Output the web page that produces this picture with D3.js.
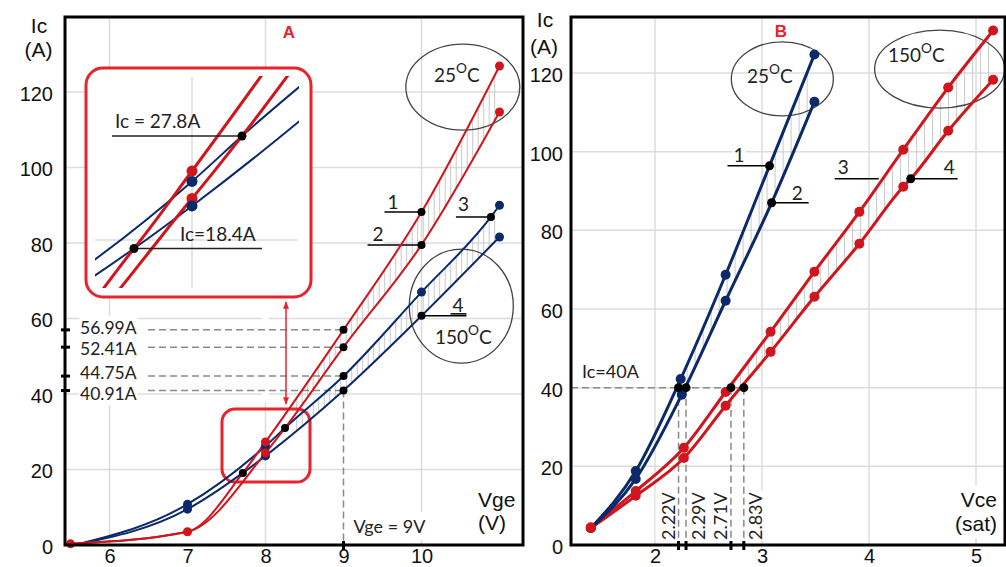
<!DOCTYPE html>
<html><head><meta charset="utf-8">
<script src="https://cdn.jsdelivr.net/npm/d3@7"></script>
<style>body{margin:0;background:#fff}svg{display:block}</style>
</head><body><svg id="c" width="1006" height="567"></svg>
<script>
// ================= DATA =================
// Panel A : Ic (A) vs Vge (V)
const aRed1  = [[5.5,0.3],[7,3.5],[7.71,19.1],[8,27.3],[9,56.99],[10,88.2],[11,126.9]];
const aRed2  = [[5.5,0.3],[7,3.5],[8,24.4],[8.25,31],[9,52.41],[10,79.5],[11,114.7]];
const aBlue3 = [[5.55,0],[7,10.8],[8,26.2],[8.25,31],[9,44.75],[10,67],[10.89,86.9],[11,90]];
const aBlue4 = [[5.55,0],[7,9.5],[7.71,19.1],[8,23.6],[9,40.91],[10,60.7],[11,81.6]];
const aRed1Dots = [5.5,7,8,11], aRed2Dots = [8,11], aBlue3Dots = [7,8,10,11], aBlue4Dots = [7,8,11];
const aBlack = [[7.71,19.1],[8.25,31],[9,56.99],[9,52.41],[9,44.75],[9,40.91],[10,88.2],[10,79.5],[10.89,86.9],[10,60.7]];
const vgeRef = 9;
const vgeLevels = [56.99,52.41,44.75,40.91];
const insetLabels = ["Ic = 27.8A","Ic=18.4A"];
const aXTicks = [6,7,8,9,10], aXGrid = [6,8,10];
const aYTicks = [0,20,40,60,80,100,120];

// Panel B : Ic (A) vs Vce(sat) (V)
const bBlue1 = [[1.40,4.3],[1.82,18.8],[2.24,42.2],[2.66,68.7],[3.07,96.4],[3.49,124.7]];
const bBlue2 = [[1.40,4.3],[1.82,16.8],[2.25,38.2],[2.66,62.1],[3.09,87],[3.49,112.7]];
const bRed3  = [[1.40,4.5],[1.82,13.7],[2.27,24.7],[2.66,38.9],[3.08,54.2],[3.49,69.5],[3.91,84.7],[4.32,100.5],[4.74,116.3],[5.16,130.8]];
const bRed4  = [[1.40,4.3],[1.82,12.5],[2.27,22.1],[2.66,35.4],[3.08,49.1],[3.49,63.1],[3.91,76.6],[4.32,91.1],[4.39,93.1],[4.74,105.3],[5.16,118.3]];
const bBlack = [[3.07,96.4],[3.09,87],[4.39,93.1]];
const icRef = 40;
const vceLevels = [2.22,2.29,2.71,2.83];
const bXTicks = [2,3,4,5];
const bYTicks = [0,20,40,60,80,100,120];

// ================= SETUP =================
const RED="#d0151c", BLUE="#0c2a6a", RED2="#e8232b", GRID="#dcdcdc", HATCH="#c9c9c9";
const CAL="Lato, 'Open Sans', sans-serif", ARI="'Liberation Sans', Arial, sans-serif";
const svg=d3.select("#c");
const xA=d3.scaleLinear().domain([6,10]).range([109.5,421.5]);
const yA=d3.scaleLinear().domain([0,120]).range([545,92]);
const xB=d3.scaleLinear().domain([2,5]).range([655,976]);
const yB=d3.scaleLinear().domain([0,120]).range([545,73]);
const xI=d3.scaleLinear().domain([8,9]).range([192,392]);
const yI=d3.scaleLinear().domain([20,30]).range([240,145.5]);
const FA={l:65,t:17,r:523,b:545}, FB={l:571,t:17,r:1005,b:545};

const gGrid=svg.append("g"), gBg=svg.append("g"), gHatch=svg.append("g"),
      gAnn=svg.append("g"), gLines=svg.append("g"), gDots=svg.append("g"),
      gInset=svg.append("g"), gText=svg.append("g"), gFrame=svg.append("g");

// grid
function grid(xs,ys,x,y,F){
  gGrid.selectAll(null).data(xs).join("line").attr("x1",d=>x(d)).attr("x2",d=>x(d))
    .attr("y1",F.t).attr("y2",F.b).attr("stroke",GRID).attr("stroke-width",1.5);
  gGrid.selectAll(null).data(ys.filter(d=>d>0)).join("line").attr("y1",d=>y(d)).attr("y2",d=>y(d))
    .attr("x1",F.l).attr("x2",F.r).attr("stroke",GRID).attr("stroke-width",1.5);
}
grid(aXGrid,aYTicks,xA,yA,FA);
grid(bXTicks,bYTicks,xB,yB,FB);

// axes (labels)
function axes(x,y,xt,yt,F,pad){
  const ax=gFrame.append("g").attr("transform",`translate(0,${F.b})`)
    .call(d3.axisBottom(x).tickValues(xt).tickSize(0).tickPadding(3.5).tickFormat(d3.format("d")));
  const ay=gFrame.append("g").attr("transform",`translate(${F.l},0)`)
    .call(d3.axisLeft(y).tickValues(yt).tickSize(0).tickPadding(pad).tickFormat(d3.format("d")));
  [ax,ay].forEach(a=>{a.select(".domain").remove();a.attr("font-family",ARI).attr("font-size",20);
    a.selectAll("text").attr("fill","#111");});
  ay.selectAll("text").attr("dy","0.42em");
}
axes(xA,yA,aXTicks,aYTicks,FA,12);
axes(xB,yB,bXTicks,bYTicks,FB,8);

// frames
[FA,FB].forEach(F=>gFrame.append("rect").attr("x",F.l).attr("y",F.t).attr("width",F.r-F.l)
  .attr("height",F.b-F.t).attr("fill","none").attr("stroke","#000").attr("stroke-width",3));

// lines
const lineA=d3.line().x(d=>xA(d[0])).y(d=>yA(d[1])).curve(d3.curveMonotoneX);
const lineB=d3.line().x(d=>xB(d[0])).y(d=>yB(d[1])).curve(d3.curveMonotoneX);
function draw(gen,data,col,w,g){ return g.append("path").attr("d",gen(data)).attr("fill","none")
  .attr("stroke",col).attr("stroke-width",w).attr("stroke-linejoin","round").node(); }
const pA1=draw(lineA,aBlue4,BLUE,2,gLines), pA2=draw(lineA,aBlue3,BLUE,2,gLines),
      pA3=draw(lineA,aRed2,RED,2,gLines), pA4=draw(lineA,aRed1,RED,2,gLines);
const pB1=draw(lineB,bRed4,RED,3,gLines), pB2=draw(lineB,bRed3,RED,3,gLines),
      pB3=draw(lineB,bBlue2,BLUE,3,gLines), pB4=draw(lineB,bBlue1,BLUE,3,gLines);

function sampler(node){
  const L=node.getTotalLength(), pts=[];
  for(let l=0;l<=L;l+=0.5){const p=node.getPointAtLength(l);pts.push([p.x,p.y]);}
  pts.sort((a,b)=>a[0]-b[0]);
  const bis=d3.bisector(d=>d[0]).left;
  return px=>{let i=bis(pts,px); if(i<=0)return pts[0][1]; if(i>=pts.length)return pts[pts.length-1][1];
    const a=pts[i-1],b=pts[i],t=(b[0]-a[0])?(px-a[0])/(b[0]-a[0]):0; return a[1]+t*(b[1]-a[1]);};
}
function hatch(n1,n2,x0,x1,step){
  const s1=sampler(n1),s2=sampler(n2);
  for(let px=x0;px<=x1;px+=step){
    gHatch.append("line").attr("x1",px).attr("x2",px).attr("y1",s1(px)).attr("y2",s2(px))
      .attr("stroke",HATCH).attr("stroke-width",1);
  }
}
hatch(pA3,pA4,xA(8.4),xA(11),5.5);
hatch(pA1,pA2,xA(8.4),xA(11),5.5);
hatch(pB3,pB4,xB(2.3),xB(3.49),8);
hatch(pB1,pB2,xB(2.8),xB(5.16),8);

// dots
function dots(series,xs,x,y,col,r){
  const pts=series.filter(d=>xs.includes(d[0]));
  gDots.selectAll(null).data(pts).join("circle").attr("cx",d=>x(d[0])).attr("cy",d=>y(d[1]))
    .attr("r",r).attr("fill",col);
}
dots(aBlue4,aBlue4Dots,xA,yA,BLUE,4.5); dots(aBlue3,aBlue3Dots,xA,yA,BLUE,4.5);
dots(aRed2,aRed2Dots,xA,yA,RED,4.5); dots(aRed1,aRed1Dots,xA,yA,RED,4.5);
const isB=(d)=>!bBlack.some(b=>b[0]===d[0]&&b[1]===d[1]);
dots(bBlue2,bBlue2.filter(isB).map(d=>d[0]),xB,yB,BLUE,5);
dots(bBlue1,bBlue1.filter(isB).map(d=>d[0]),xB,yB,BLUE,5);
dots(bRed4,bRed4.filter(isB).map(d=>d[0]),xB,yB,RED,5);
dots(bRed3,bRed3.filter(isB).map(d=>d[0]),xB,yB,RED,5);
gDots.selectAll(null).data(aBlack).join("circle").attr("cx",d=>xA(d[0])).attr("cy",d=>yA(d[1])).attr("r",4).attr("fill","#000");
gDots.selectAll(null).data(bBlack).join("circle").attr("cx",d=>xB(d[0])).attr("cy",d=>yB(d[1])).attr("r",4.5).attr("fill","#000");
gDots.selectAll(null).data(vceLevels).join("circle").attr("cx",d=>xB(d)).attr("cy",yB(icRef)).attr("r",4.5).attr("fill","#000");

// text helper with white background
function txt(x,y,s,opt={}){
  const t=gText.append("text").attr("x",x).attr("y",y).text(s)
    .attr("font-family",opt.f||CAL).attr("font-size",opt.size||18).attr("fill",opt.col||"#222")
    .attr("text-anchor",opt.anchor||"start");
  if(opt.w) t.attr("font-weight",opt.w);
  if(opt.dy) t.attr("dy",opt.dy);
  if(opt.rot) t.attr("transform",`rotate(-90,${x},${y})`);
  if(opt.bg){ const b=t.node().getBoundingClientRect(), p=opt.bg;
    gBg.append("rect").attr("x",b.x-p).attr("y",b.y-p).attr("width",b.width+2*p).attr("height",b.height+2*p).attr("fill","#fff"); }
  return t;
}
function degText(x,y,num,size){
  const t=gText.append("text").attr("x",x).attr("y",y).attr("font-family",CAL).attr("font-size",size).attr("fill","#222");
  t.append("tspan").text(num); t.append("tspan").attr("dy",-9).attr("font-size",size*0.72).text("O");
  t.append("tspan").attr("dy",9).text("C"); return t;
}
const dash="7,4", DC="#8a8a8a";

// ---------- Panel A annotations ----------
txt(289,38,"A",{f:ARI,size:17,w:"bold",col:RED2,anchor:"middle"});
txt(39,33,"Ic",{f:ARI,size:21,anchor:"middle",col:"#111"});
txt(38.5,57,"(A)",{f:ARI,size:21,anchor:"middle",col:"#111"});
txt(478,507,"Vge",{f:ARI,size:21,col:"#111",bg:3});
txt(478,530,"(V)",{f:ARI,size:21,col:"#111",bg:3});
// Vge = 9V reference
gAnn.selectAll(null).data(vgeLevels).join("line").attr("x1",148).attr("x2",xA(vgeRef))
  .attr("y1",d=>yA(d)).attr("y2",d=>yA(d)).attr("stroke",DC).attr("stroke-width",1.5).attr("stroke-dasharray",dash);
gAnn.append("line").attr("x1",xA(vgeRef)).attr("x2",xA(vgeRef)).attr("y1",yA(d3.min(vgeLevels))).attr("y2",FA.b)
  .attr("stroke",DC).attr("stroke-width",1.5).attr("stroke-dasharray",dash);
gFrame.append("line").attr("x1",xA(vgeRef)).attr("x2",xA(vgeRef)).attr("y1",FA.b-4).attr("y2",FA.b+5).attr("stroke","#000").attr("stroke-width",3);
gFrame.selectAll(null).data(vgeLevels).join("line").attr("x1",FA.l-4).attr("x2",FA.l+5)
  .attr("y1",d=>yA(d)).attr("y2",d=>yA(d)).attr("stroke","#000").attr("stroke-width",3);
// label positions: keep near their value, spread apart so they don't collide
const labY=vgeLevels.map(v=>yA(v));
for(let it=0;it<50;it++){for(let i=0;i<labY.length-1;i++){const g=labY[i+1]-labY[i];
  if(g<21){const m=(21-g)/2;labY[i]-=m;labY[i+1]+=m;}}}
vgeLevels.forEach((v,i)=>txt(80,labY[i],d3.format(".2f")(v)+"A",{size:17.5,bg:1,dy:"0.36em"}));
txt(xA(vgeRef)+10,533,"Vge = "+vgeRef+"V",{size:18,bg:3});
// labels 1-4
function lab(px,py,s,tx,ty,l0,l1){
  gAnn.append("line").attr("x1",px+l0).attr("x2",px+l1).attr("y1",py).attr("y2",py).attr("stroke","#000").attr("stroke-width",1.5);
  txt(px+tx,py+ty,s,{size:19,bg:1});
}
lab(xA(10),yA(88.2),"1",-34,-3,-37,0);
lab(xA(10),yA(79.5),"2",-49,-4,-54,0);
lab(xA(10.89),yA(86.9),"3",-33,-6,-35,0);
lab(xA(10),yA(60.7),"4",31,-4,0,45);
gAnn.append("line").attr("x1",xA(10)+29).attr("x2",xA(10)+45).attr("y1",yA(60.7)-2).attr("y2",yA(60.7)-2).attr("stroke","#000").attr("stroke-width",1.5);
// ellipses
gAnn.append("ellipse").attr("cx",xA(10.53)).attr("cy",yA(121.3)).attr("rx",57).attr("ry",43).attr("fill","none").attr("stroke","#444").attr("stroke-width",1.3);
gAnn.append("ellipse").attr("cx",xA(10.51)).attr("cy",yA(63.3)).attr("rx",52).attr("ry",57).attr("fill","none").attr("stroke","#444").attr("stroke-width",1.3);
degText(434,82,"25",19);
degText(435,344,"150",19);
// small zoom rectangle and arrow
gAnn.append("rect").attr("x",222).attr("y",409).attr("width",88).attr("height",73).attr("rx",13)
  .attr("fill","none").attr("stroke",RED2).attr("stroke-width",3);
svg.append("defs").html(`<marker id="ah" viewBox="0 0 10 10" refX="9" refY="5" markerWidth="5" markerHeight="7" orient="auto-start-reverse"><path d="M0,1 L10,5 L0,9 z" fill="${RED2}"/></marker>`);
gBg.append("rect").attr("x",262).attr("y",298).attr("width",7).attr("height",104).attr("fill","#fff");
gAnn.append("line").attr("x1",286).attr("x2",286).attr("y1",302).attr("y2",404)
  .attr("stroke",RED2).attr("stroke-width",1.5).attr("marker-start","url(#ah)").attr("marker-end","url(#ah)");

// ---------- Inset ----------
gInset.append("rect").attr("x",86).attr("y",68).attr("width",225).attr("height",229).attr("rx",17)
  .attr("fill","#fff").attr("stroke",RED2).attr("stroke-width",3);
svg.select("defs").append("clipPath").attr("id","ic").append("rect").attr("x",95).attr("y",76).attr("width",204).attr("height",212);
const gi=gInset.append("g").attr("clip-path","url(#ic)");
gi.append("line").attr("x1",xI(8)).attr("x2",xI(8)).attr("y1",77).attr("y2",290).attr("stroke",GRID).attr("stroke-width",1.5);
gi.append("line").attr("x1",95).attr("x2",298).attr("y1",yI(20)).attr("y2",yI(20)).attr("stroke",GRID).attr("stroke-width",1.5);
const lineI=d3.line().x(d=>xI(d[0])).y(d=>yI(d[1])).curve(d3.curveMonotoneX);
[[aBlue4,BLUE,2],[aBlue3,BLUE,2],[aRed2,RED,3],[aRed1,RED,3]].forEach(([s,c,w])=>
  gi.append("path").attr("d",lineI(s)).attr("fill","none").attr("stroke",c).attr("stroke-width",w));
[[aRed1,RED],[aBlue3,BLUE],[aRed2,RED],[aBlue4,BLUE]].forEach(([s,c])=>{
  const p=s.find(d=>d[0]===8); gi.append("circle").attr("cx",xI(p[0])).attr("cy",yI(p[1])).attr("r",5.5).attr("fill",c);});
const up=aBlack[1], lo=aBlack[0];
gi.append("line").attr("x1",112).attr("x2",xI(up[0])).attr("y1",yI(up[1])).attr("y2",yI(up[1])).attr("stroke","#222").attr("stroke-width",1.5);
gi.append("line").attr("x1",xI(lo[0])).attr("x2",262).attr("y1",yI(lo[1])).attr("y2",yI(lo[1])).attr("stroke","#222").attr("stroke-width",1.5);
[up,lo].forEach(p=>gi.append("circle").attr("cx",xI(p[0])).attr("cy",yI(p[1])).attr("r",4.5).attr("fill","#000"));
gInset.append("text").attr("x",115).attr("y",yI(up[1])-8).text(insetLabels[0]).attr("font-family",CAL).attr("font-size",19).attr("fill","#222");
gInset.append("text").attr("x",180).attr("y",yI(lo[1])-8).text(insetLabels[1]).attr("font-family",CAL).attr("font-size",19).attr("fill","#222");

// ---------- Panel B annotations ----------
txt(781,37,"B",{f:ARI,size:17,w:"bold",col:RED2,anchor:"middle"});
txt(545,27,"Ic",{f:ARI,size:21,anchor:"middle",col:"#111"});
txt(544,54,"(A)",{f:ARI,size:21,anchor:"middle",col:"#111"});
txt(997,507,"Vce",{f:ARI,size:21,anchor:"end",col:"#111",bg:3});
txt(997,531,"(sat)",{f:ARI,size:21,anchor:"end",col:"#111",bg:3});
gAnn.append("line").attr("x1",FB.l).attr("x2",xB(d3.max(vceLevels))).attr("y1",yB(icRef)).attr("y2",yB(icRef))
  .attr("stroke",DC).attr("stroke-width",1.5).attr("stroke-dasharray",dash);
gAnn.selectAll(null).data(vceLevels).join("line").attr("x1",d=>xB(d)).attr("x2",d=>xB(d)).attr("y1",yB(icRef)).attr("y2",FB.b)
  .attr("stroke",DC).attr("stroke-width",1.5).attr("stroke-dasharray",dash);
gFrame.selectAll(null).data(vceLevels).join("line").attr("x1",d=>xB(d)).attr("x2",d=>xB(d)).attr("y1",FB.b-4).attr("y2",FB.b+5)
  .attr("stroke","#000").attr("stroke-width",3);
vceLevels.forEach((v,i)=>txt(xB(v)+(i%2?18.5:-4),540,d3.format(".2f")(v)+"V",{size:18,rot:true,bg:1}));
txt(FB.l+11,yB(icRef)-10,"Ic="+icRef+"A",{size:18});
lab(xB(3.07),yB(96.4),"1",-36,-4,-42,0);
lab(xB(3.09),yB(87),"2",20,-3,0,37);
lab(xB(4.39),yB(93.1),"4",33,-5,0,47);
lab(xB(4.39),yB(93.1),"3",-73,-5,-76,-32);
gAnn.append("ellipse").attr("cx",xB(3.19)).attr("cy",yB(118.5)).attr("rx",51).attr("ry",37).attr("fill","none").attr("stroke","#444").attr("stroke-width",1.3);
gAnn.append("ellipse").attr("cx",xB(4.66)).attr("cy",yB(121)).attr("rx",65).attr("ry",39).attr("fill","none").attr("stroke","#444").attr("stroke-width",1.3);
degText(747,83,"25",19);
degText(888,62,"150",19);
</script></body></html>
